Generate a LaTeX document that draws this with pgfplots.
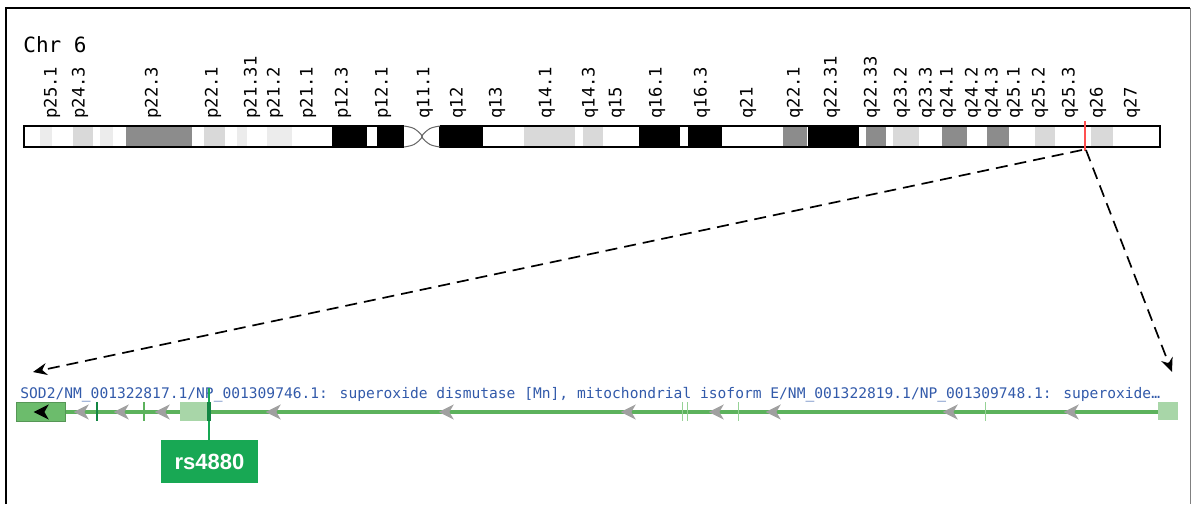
\documentclass[border=0pt]{standalone}
\usepackage{pgfplots}
\pgfplotsset{compat=1.18}
\usepackage{fontspec}
\setmainfont{Liberation Sans}
\newfontfamily\mono{DejaVu Sans Mono}
\usetikzlibrary{arrows.meta}
\definecolor{vlight}{RGB}{236,236,236}
\definecolor{lgray}{RGB}{217,217,217}
\definecolor{mgray}{RGB}{140,140,140}
\definecolor{trackgreen}{RGB}{92,178,92}
\definecolor{boxgreen}{RGB}{108,188,108}
\definecolor{palegreen}{RGB}{168,214,168}
\definecolor{thingreen}{RGB}{150,210,150}
\definecolor{snpgreen}{RGB}{24,168,84}
\definecolor{genetext}{RGB}{50,90,170}
\definecolor{chev}{RGB}{160,160,160}
\definecolor{redmark}{RGB}{255,80,80}
\pgfdeclareplotmark{chev}{%
  \pgfpathmoveto{\pgfqpoint{-4.2pt}{0pt}}%
  \pgfpathlineto{\pgfqpoint{3.4pt}{3.8pt}}%
  \pgfpathlineto{\pgfqpoint{1.2pt}{0pt}}%
  \pgfpathlineto{\pgfqpoint{3.4pt}{-3.8pt}}%
  \pgfpathclose\pgfusepathqfill}
\newcommand{\band}[3]{\addplot[fill=#3, draw=none] coordinates {(#1,126) (#2,126) (#2,147) (#1,147)} -- cycle;}
\newcommand{\blab}[2]{\node[rotate=90, anchor=west, inner sep=0pt, font=\mono\fontsize{8.6}{9}\selectfont] at (axis cs:#1,119) {#2};}
\begin{document}
\begin{tikzpicture}
\begin{axis}[scale only axis, width=595.5pt, height=252pt,
  xmin=0, xmax=1191, ymin=0, ymax=504, y dir=reverse,
  hide axis, clip=false]
\path (rel axis cs:0,0) rectangle (rel axis cs:1,1);
% frame
\addplot[black, line width=1pt] coordinates {(6,504) (6,8) (1190,8)};
\addplot[gray, line width=0.5pt] coordinates {(1190,8) (1190,504)};
% title
\node[anchor=west, inner sep=0pt, font=\mono\fontsize{10.5}{12}\selectfont] at (axis cs:23,45) {Chr 6};
% chromosome bands
\addplot[fill=white, draw=none] coordinates {(24,126) (1160,126) (1160,147) (24,147)} -- cycle;
\band{40}{52}{vlight}
\band{100}{113}{vlight}
\band{237}{247}{vlight}
\band{267}{292}{vlight}
\band{73}{93}{lgray}
\band{204}{225}{lgray}
\band{524}{575}{lgray}
\band{583}{603}{lgray}
\band{893}{919}{lgray}
\band{1035}{1055}{lgray}
\band{1091}{1113}{lgray}
\band{126}{192}{mgray}
\band{783}{807}{mgray}
\band{866}{886}{mgray}
\band{942}{967}{mgray}
\band{987}{1009}{mgray}
\band{332}{367}{black}
\band{377}{404}{black}
\band{440}{483}{black}
\band{639}{680}{black}
\band{688}{722}{black}
\band{808}{859}{black}
% centromere
\addplot[fill=white, draw=none] coordinates {(404,126) (440,126) (422,136.5) (440,147) (404,147) (422,136.5)} -- cycle;
\addplot[black, line width=0.6pt] coordinates {(404,126) (24,126) (24,147) (404,147)};
\addplot[black, line width=0.6pt] coordinates {(440,126) (1160,126) (1160,147) (440,147) (440,126)};
\addplot[black!60, line width=0.5pt, smooth] coordinates {(404,126) (414,128.5) (422,136.5) (414,144.5) (404,147)};
\addplot[black!60, line width=0.5pt, smooth] coordinates {(440,126) (430,128.5) (422,136.5) (430,144.5) (440,147)};
% band labels
\blab{52}{p25.1}
\blab{80}{p24.3}
\blab{153}{p22.3}
\blab{213}{p22.1}
\blab{252}{p21.31}
\blab{275}{p21.2}
\blab{308}{p21.1}
\blab{343}{p12.3}
\blab{383}{p12.1}
\blab{425}{q11.1}
\blab{458}{q12}
\blab{497}{q13}
\blab{547}{q14.1}
\blab{590}{q14.3}
\blab{617}{q15}
\blab{657}{q16.1}
\blab{702}{q16.3}
\blab{748}{q21}
\blab{795}{q22.1}
\blab{832}{q22.31}
\blab{872}{q22.33}
\blab{902}{q23.2}
\blab{927}{q23.3}
\blab{948}{q24.1}
\blab{973}{q24.2}
\blab{993}{q24.3}
\blab{1015}{q25.1}
\blab{1040}{q25.2}
\blab{1070}{q25.3}
\blab{1098}{q26}
\blab{1132}{q27}
% SNP position on chromosome
\addplot[redmark, line width=1pt] coordinates {(1085,121) (1085,151)};
% zoom arrows
\addplot[black, line width=0.85pt, dash pattern=on 6pt off 3.5pt, -{Stealth[length=7pt,width=6pt]}] coordinates {(1082,150) (33,372)};
\addplot[black, line width=0.85pt, dash pattern=on 6pt off 3.5pt, -{Stealth[length=7pt,width=6pt]}] coordinates {(1086,150) (1172,372)};
% gene label
\node[anchor=west, inner sep=0pt, text=genetext, font=\mono\fontsize{7.3}{9}\selectfont] at (axis cs:20,395) {SOD2/NM\_001322817.1/NP\_001309746.1: superoxide dismutase [Mn], mitochondrial isoform E/NM\_001322819.1/NP\_001309748.1: superoxide…};
% gene track
\addplot[trackgreen, line width=1.7pt] coordinates {(16,412) (1170,412)};
\addplot[fill=boxgreen, draw=boxgreen!80!black, line width=0.3pt] coordinates {(16,402) (65,402) (65,421) (16,421)} -- cycle;
\addplot[fill=palegreen, draw=none] coordinates {(180,402) (207,402) (207,421) (180,421)} -- cycle;
\addplot[fill=palegreen, draw=none] coordinates {(1158,402) (1178,402) (1178,420) (1158,420)} -- cycle;
\addplot[snpgreen!80!black, line width=1pt] coordinates {(97,402) (97,421)};
\addplot[trackgreen, line width=0.6pt] coordinates {(144,402) (144,421)};
\addplot[thingreen, line width=0.4pt] coordinates {(682,402) (682,421)};
\addplot[thingreen, line width=0.4pt] coordinates {(687,402) (687,421)};
\addplot[thingreen, line width=0.4pt] coordinates {(738,402) (738,421)};
\addplot[thingreen, line width=0.4pt] coordinates {(985,402) (985,421)};
\addplot[only marks, mark=chev, color=chev] coordinates {(82,412) (122,412) (163,412) (274,412) (447,412) (629,412) (717,412) (774,412) (951,412) (1072,412)};
\addplot[only marks, mark=chev, color=black] coordinates {(42,412)};
% rs4880
\addplot[snpgreen, line width=1pt] coordinates {(209,388) (209,440)};
\addplot[snpgreen!80!black, line width=2pt] coordinates {(209,402) (209,421)};
\addplot[fill=snpgreen, draw=none] coordinates {(161,440) (258,440) (258,483) (161,483)} -- cycle;
\node[text=white, font=\bfseries\fontsize{11}{13}\selectfont, inner sep=0pt] at (axis cs:209.5,462) {rs4880};
\end{axis}
\end{tikzpicture}
\end{document}
